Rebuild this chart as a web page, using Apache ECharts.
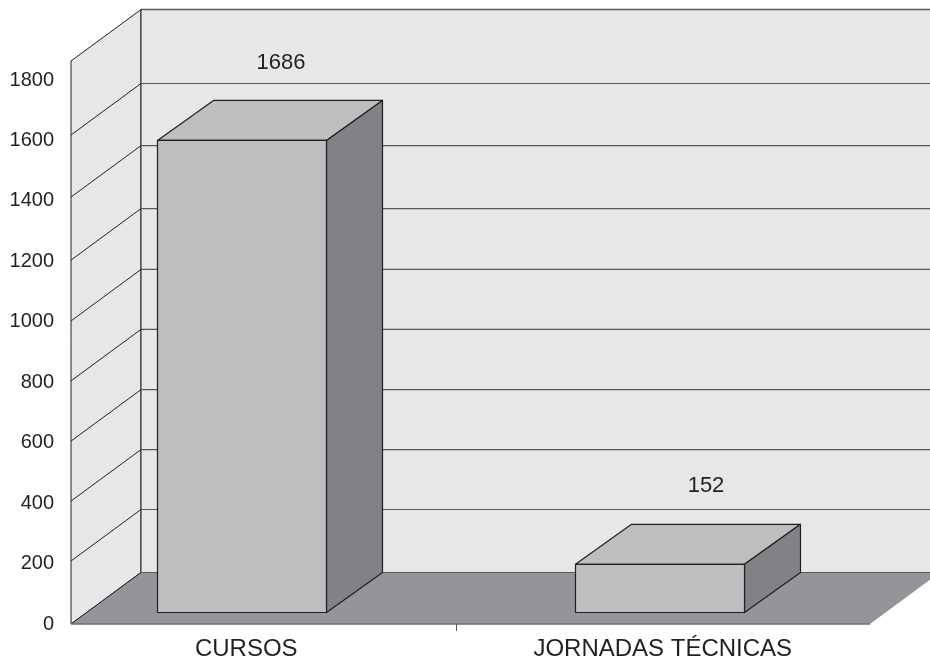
<!DOCTYPE html>
<html><head><meta charset="utf-8">
<style>html,body{margin:0;padding:0;background:#fff}#c{width:930px;height:659px}</style>
<script src="https://cdn.jsdelivr.net/npm/echarts@6/dist/echarts.min.js"></script>
</head><body><div id="c"></div>
<script>
const categories = ['CURSOS', 'JORNADAS TÉCNICAS'];
// Values printed above the bars in the reference.
const printedValues = [1686, 152];
// Bar heights as they read against the tick scale (the drawn bars do not match their printed labels exactly).
const barHeights = [1559, 159];
const tickLabels = [0, 200, 400, 600, 800, 1000, 1200, 1400, 1600, 1800];
// Wall rule levels read against the wall edge (the wall extends above the last rule).
const wallLevels = [206, 402, 598, 795, 991, 1190, 1396, 1599];
const wallTop = 1841;

const FONT = '"Liberation Sans", Arial, sans-serif';
const TEXT = '#231f20', EDGE = '#231f20', RULE = '#58595b';
const WALL = '#e6e7e8', FLOOR = '#939598', FACE = '#bcbec0', SIDE = '#808285';
const WALL_DX = 70, WALL_DY = -51.5, BAR_DX = 56, BAR_DY = -40;
const LABEL_SHIFT = [39, 46], LABEL_RISE = 38;

const chart = echarts.init(document.getElementById('c'), null, {renderer: 'canvas'});
const noAxis = {show: false};
chart.setOption({
  animation: false,
  backgroundColor: '#fff',
  grid: [
    {left: 38, width: 833, top: 80, height: 544, outerBoundsMode: 'none'},
    {left: 71, width: 799, top: 61, height: 563, outerBoundsMode: 'none'},
    {left: 33, width: 836, top: 67.5, height: 545, outerBoundsMode: 'none'}
  ],
  xAxis: [
    {gridIndex: 0, type: 'category', data: categories,
     axisLine: noAxis, axisTick: noAxis, splitLine: noAxis,
     axisLabel: {color: TEXT, fontFamily: FONT, fontSize: 24, margin: 13, interval: 0}},
    {gridIndex: 1, type: 'value', min: 0, max: 1, show: false},
    {gridIndex: 2, type: 'category', data: categories, show: false}
  ],
  yAxis: [
    {gridIndex: 0, type: 'value', min: tickLabels[0], max: tickLabels[tickLabels.length - 1], interval: 200,
     axisLine: noAxis, axisTick: noAxis, splitLine: noAxis,
     axisLabel: {color: TEXT, fontFamily: FONT, fontSize: 20, margin: -16, formatter: v => String(v)}},
    {gridIndex: 1, type: 'value', min: 0, max: wallTop, show: false},
    {gridIndex: 2, type: 'value', min: 0, max: 1800, show: false}
  ],
  graphic: [{type: 'line', shape: {x1: 456.5, y1: 624, x2: 456.5, y2: 631},
             style: {stroke: '#58595b', lineWidth: 1}, z: 20}],
  series: [
    { // walls and floor
      type: 'custom', xAxisIndex: 1, yAxisIndex: 1, z: 1, silent: true,
      data: [[0, 0]],
      renderItem(p, api) {
        const a = api.coord([0, 0]), b = api.coord([1, 0]), t = api.coord([0, wallTop]);
        const ba = [a[0] + WALL_DX, a[1] + WALL_DY], bb = [b[0] + WALL_DX, b[1] + WALL_DY];
        const bt = [t[0] + WALL_DX, t[1] + WALL_DY], br = [b[0] + WALL_DX, t[1] + WALL_DY];
        return {type: 'group', children: [
          {type: 'polygon', shape: {points: [t, bt, ba, a]}, style: {fill: WALL, stroke: EDGE, lineWidth: 1}},
          {type: 'polygon', shape: {points: [bt, br, bb, ba]}, style: {fill: WALL, stroke: 'none'}},
          {type: 'polygon', shape: {points: [a, b, bb, ba]}, style: {fill: FLOOR, stroke: 'none'}},
          {type: 'line', shape: {x1: bt[0], y1: bt[1], x2: br[0], y2: br[1]}, style: {stroke: RULE, lineWidth: 1.3}},
          {type: 'line', shape: {x1: bt[0], y1: bt[1], x2: ba[0], y2: ba[1]}, style: {stroke: EDGE, lineWidth: 1}},
          {type: 'line', shape: {x1: a[0], y1: a[1], x2: ba[0], y2: ba[1]}, style: {stroke: EDGE, lineWidth: 1}},
          {type: 'line', shape: {x1: a[0], y1: a[1], x2: b[0], y2: b[1]}, style: {stroke: '#6d6e71', lineWidth: 1.5}},
          {type: 'line', shape: {x1: ba[0], y1: ba[1], x2: bb[0], y2: bb[1]}, style: {stroke: RULE, lineWidth: 1}}
        ]};
      }
    },
    { // wall rules
      type: 'custom', xAxisIndex: 1, yAxisIndex: 1, z: 2, silent: true,
      data: wallLevels.map(v => [0, v]),
      renderItem(p, api) {
        const v = api.value(1), a = api.coord([0, v]), b = api.coord([1, v]);
        const pa = [a[0] + WALL_DX, a[1] + WALL_DY], pb = [b[0] + WALL_DX, b[1] + WALL_DY];
        return {type: 'group', children: [
          {type: 'line', shape: {x1: a[0], y1: a[1], x2: pa[0], y2: pa[1]}, style: {stroke: EDGE, lineWidth: 1}},
          {type: 'line', shape: {x1: pa[0], y1: pa[1], x2: pb[0], y2: pb[1]}, style: {stroke: RULE, lineWidth: 1.2}}
        ]};
      }
    },
    { // 3D bars
      type: 'custom', xAxisIndex: 2, yAxisIndex: 2, z: 3, silent: true,
      data: barHeights.map((v, i) => [i, v, printedValues[i]]),
      renderItem(p, api) {
        const i = api.value(0), top = api.coord([i, api.value(1)]), base = api.coord([i, 0]);
        const w = api.size([1, 0])[0] * 0.4043;
        const l = top[0] - w / 2, r = top[0] + w / 2, yt = top[1], yb = base[1];
        const line = {stroke: EDGE, lineWidth: 1.2, lineJoin: 'round'};
        return {type: 'group', children: [
          {type: 'polygon', shape: {points: [[l, yt], [l + BAR_DX, yt + BAR_DY], [r + BAR_DX, yt + BAR_DY], [r, yt]]}, style: {fill: FACE, ...line}},
          {type: 'polygon', shape: {points: [[r, yt], [r + BAR_DX, yt + BAR_DY], [r + BAR_DX, yb + BAR_DY], [r, yb]]}, style: {fill: SIDE, ...line}},
          {type: 'rect', shape: {x: l, y: yt, width: r - l, height: yb - yt}, style: {fill: FACE, ...line}},
          {type: 'text', style: {x: top[0] + LABEL_SHIFT[i], y: yt + BAR_DY - LABEL_RISE,
            text: String(api.value(2)), fill: TEXT, font: '22px ' + FONT, align: 'center', verticalAlign: 'middle'}}
        ]};
      }
    }
  ]
});
</script></body></html>
